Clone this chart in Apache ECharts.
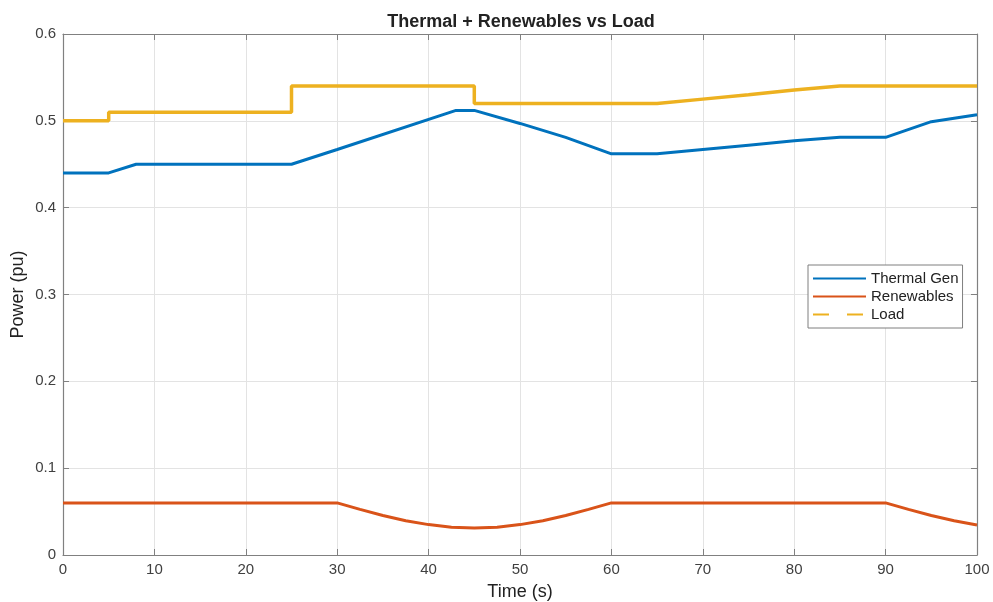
<!DOCTYPE html>
<html>
<head>
<meta charset="utf-8">
<script src="https://cdn.jsdelivr.net/npm/echarts@6/dist/echarts.min.js"></script>
<style>html,body{margin:0;padding:0;background:#fff}#c{width:993px;height:602px}</style>
</head>
<body>
<div id="c"></div>
<script>
// Data
const thermalT = [0, 5, 8, 25, 30, 43, 45, 50, 55, 60, 65, 70, 75, 80, 85, 90, 95, 100];
const thermalP = [0.440, 0.440, 0.450, 0.450, 0.467, 0.512, 0.512, 0.497, 0.481, 0.462, 0.462, 0.467, 0.472, 0.477, 0.481, 0.481, 0.499, 0.507];

const renewT = [0, 30, 32.5, 35, 37.5, 40, 42.5, 45, 47.5, 50, 52.5, 55, 57.5, 60, 90, 92.5, 95, 97.5, 100];
const renewP = [0.060, 0.060, 0.0525, 0.0455, 0.0395, 0.035, 0.032, 0.031, 0.032, 0.035, 0.0395, 0.0455, 0.0525, 0.060, 0.060, 0.0525, 0.0455, 0.0395, 0.0345];

const loadT = [0, 5, 5, 25, 25, 45, 45, 65, 70, 75, 80, 85, 90, 100];
const loadP = [0.500, 0.500, 0.510, 0.510, 0.540, 0.540, 0.520, 0.520, 0.525, 0.530, 0.5355, 0.540, 0.540, 0.540];

const xTicks = [0, 10, 20, 30, 40, 50, 60, 70, 80, 90, 100];
const yTicks = [0, 0.1, 0.2, 0.3, 0.4, 0.5, 0.6];

const titleText = 'Thermal + Renewables vs Load';
const seriesNames = ['Thermal Gen', 'Renewables', 'Load'];

const zip = (a, b) => a.map((v, i) => [v, b[i]]);

const FONT = '"Liberation Sans", Arial, sans-serif';
const AX = '#808080';
const LBL = '#404040';

const chart = echarts.init(document.getElementById('c'), null, {renderer: 'canvas'});

const baseX = {
  type: 'value', min: xTicks[0], max: xTicks[xTicks.length - 1], interval: 10,
  axisLine: {show: true, onZero: false, lineStyle: {color: AX, width: 1.2}},
  axisTick: {show: true, inside: true, length: 6, lineStyle: {color: AX}},
  splitLine: {show: false}
};
const baseY = {
  type: 'value', min: yTicks[0], max: yTicks[yTicks.length - 1], interval: 0.1,
  axisLine: {show: true, onZero: false, lineStyle: {color: AX, width: 1.2}},
  axisTick: {show: true, inside: true, length: 6, lineStyle: {color: AX}},
  splitLine: {show: false}
};

chart.setOption({
  animation: false,
  backgroundColor: '#fff',
  title: {
    text: titleText, left: 516, top: 8, textAlign: 'center',
    textStyle: {fontFamily: FONT, fontSize: 18, fontWeight: 'bold', color: '#222'}
  },
  grid: {left: 63, right: 16, top: 34, bottom: 47, containLabel: false, outerBoundsMode: 'none'},
  legend: {
    show: true,
    orient: 'vertical', left: 808, top: 265,
    backgroundColor: '#fff', borderColor: '#7f7f7f', borderWidth: 1, borderRadius: 0,
    padding: [6, 4, 6, 4], itemGap: 3, itemWidth: 53, itemHeight: 14,
    itemStyle: {opacity: 0, borderWidth: 0},
    textStyle: {fontFamily: FONT, fontSize: 15, color: '#222'},
    data: [
      {name: seriesNames[0]},
      {name: seriesNames[1]},
      {name: seriesNames[2], lineStyle: {type: [16, 18]}}
    ]
  },
  xAxis: [
    Object.assign({}, baseX, {
      position: 'bottom',
      name: 'Time (s)', nameLocation: 'middle', nameGap: 28, nameMoveOverlap: false,
      nameTextStyle: {fontFamily: FONT, fontSize: 18, color: '#222'},
      axisLabel: {show: true, margin: 7, fontFamily: FONT, fontSize: 15, color: LBL},
      splitLine: {show: true, lineStyle: {color: '#e3e3e3', width: 1}}
    }),
    Object.assign({}, baseX, {position: 'top', axisLabel: {show: false}})
  ],
  yAxis: [
    Object.assign({}, baseY, {
      position: 'left',
      name: 'Power (pu)', nameLocation: 'middle', nameGap: 36, nameRotate: 90, nameMoveOverlap: false,
      nameTextStyle: {fontFamily: FONT, fontSize: 18, color: '#222'},
      axisLabel: {show: true, margin: 7, fontFamily: FONT, fontSize: 15, color: LBL,
        formatter: v => String(Math.round(v * 10) / 10)},
      splitLine: {show: true, lineStyle: {color: '#e3e3e3', width: 1}}
    }),
    Object.assign({}, baseY, {position: 'right', axisLabel: {show: false}})
  ],
  series: [
    {name: seriesNames[0], type: 'line', data: zip(thermalT, thermalP), showSymbol: false, symbol: 'none',
      lineStyle: {color: '#0072BD', width: 3}, itemStyle: {color: '#0072BD'}, z: 3},
    {name: seriesNames[1], type: 'line', data: zip(renewT, renewP), showSymbol: false, symbol: 'none',
      lineStyle: {color: '#D95319', width: 3}, itemStyle: {color: '#D95319'}, z: 3},
    {name: seriesNames[2], type: 'line', data: zip(loadT, loadP), showSymbol: false, symbol: 'none',
      lineStyle: {color: '#EDB120', width: 3.5}, itemStyle: {color: '#EDB120'}, z: 2}
  ]
});
</script>
</body>
</html>
